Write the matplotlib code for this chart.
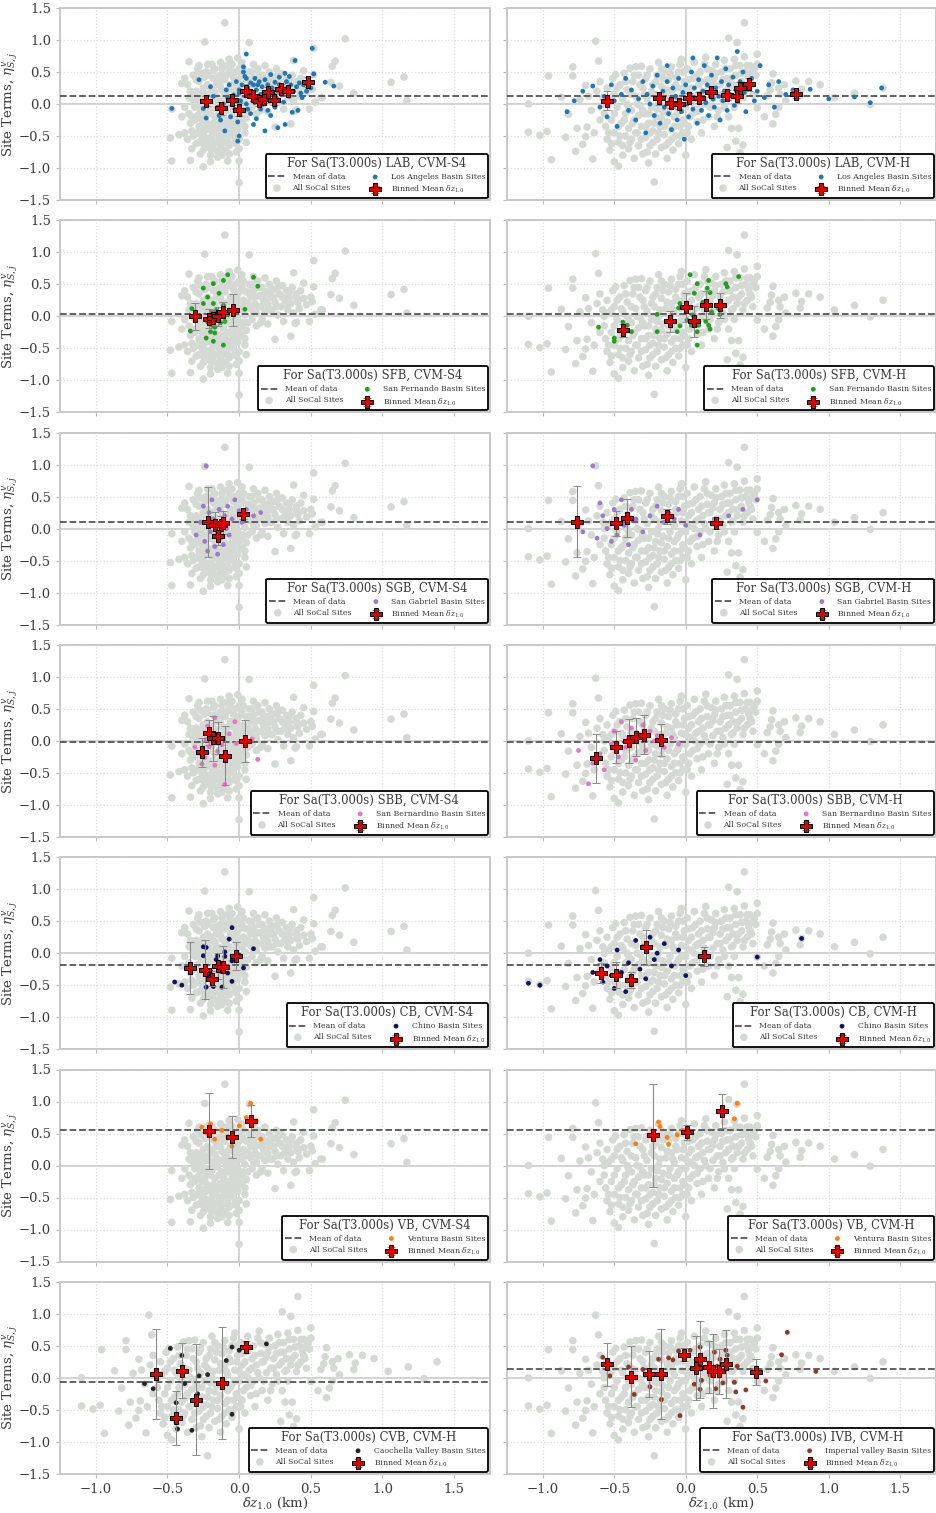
import matplotlib
matplotlib.use("Agg")
import matplotlib.pyplot as plt

plt.rcParams["font.family"] = ["DejaVu Serif"]
plt.rcParams["mathtext.fontset"] = "dejavuserif"

# ---------------- All SoCal sites (gray background clouds) ----------------
# CVM-S4 site terms vs dz1.0
S4_PTS = [
    (-0.36, 0.3), (-0.35, 0.1), (-0.35, -0.15), (-0.34, -0.3), (-0.33, -0.42), (-0.36, -0.55), (-0.32, 0.45),
    (-0.31, -0.05), (-0.3, 0.2), (-0.3, -0.62), (-0.33, -0.7), (-0.34, -0.88), (-0.31, -0.25), (-0.32, 0.05),
    (-0.29, 0.55), (-0.28, 0.6), (-0.28, 0.35), (-0.27, 0.12), (-0.27, -0.1), (-0.28, -0.35), (-0.26, -0.5),
    (-0.25, -0.62), (-0.27, -0.78), (-0.25, -0.98), (-0.24, 0.97), (-0.24, 0.42), (-0.25, 0.25), (-0.24, -0.2),
    (-0.26, 0.0), (-0.24, -0.42), (-0.25, -0.72), (-0.29, -0.18),
    (-0.23, 0.5), (-0.22, 0.3), (-0.22, 0.15), (-0.21, -0.05), (-0.23, -0.28), (-0.2, -0.4), (-0.22, -0.55),
    (-0.21, -0.65), (-0.2, -0.8), (-0.19, 0.62), (-0.18, 0.4), (-0.19, 0.2), (-0.18, 0.05), (-0.2, -0.15),
    (-0.18, -0.3), (-0.19, -0.5), (-0.18, -0.7), (-0.22, 0.62), (-0.2, -0.9),
    (-0.17, 0.55), (-0.16, 0.3), (-0.16, 0.12), (-0.15, -0.02), (-0.17, -0.2), (-0.15, -0.35), (-0.16, -0.45),
    (-0.14, -0.6), (-0.15, -0.75), (-0.15, -0.83), (-0.13, 0.65), (-0.13, 0.45), (-0.12, 0.22), (-0.13, 0.08),
    (-0.12, -0.1), (-0.13, -0.28), (-0.12, -0.5), (-0.13, -0.68), (-0.1, 1.27), (-0.14, 0.35),
    (-0.11, 0.6), (-0.1, 0.38), (-0.1, 0.18), (-0.09, 0.0), (-0.11, -0.18), (-0.09, -0.35), (-0.1, -0.45),
    (-0.08, -0.58), (-0.1, -0.72), (-0.08, -0.89), (-0.07, 0.7), (-0.07, 0.5), (-0.06, 0.3), (-0.07, 0.1),
    (-0.06, -0.08), (-0.07, -0.25), (-0.06, -0.4), (-0.07, -0.65), (-0.08, 0.6),
    (-0.05, 0.62), (-0.04, 0.42), (-0.04, 0.22), (-0.03, 0.05), (-0.05, -0.15), (-0.03, -0.3), (-0.04, -0.5),
    (-0.03, -0.6), (-0.02, -0.75), (-0.01, 0.72), (0.0, 0.55), (-0.01, 0.35), (0.0, 0.15), (-0.01, -0.05),
    (0.0, -0.2), (-0.01, -0.4), (0.0, -0.55), (0.0, -0.7), (0.0, -0.89), (0.0, -1.23), (-0.02, -0.12), (-0.04, 0.0),
    (0.02, 0.65), (0.02, 0.45), (0.03, 0.25), (0.02, 0.1), (0.03, -0.1), (0.02, -0.3), (0.04, -0.45),
    (0.05, 0.38), (0.04, 0.02), (0.05, -0.22), (0.07, 0.96), (0.05, -0.6),
    (0.07, 0.5), (0.08, 0.3), (0.08, 0.12), (0.09, -0.05), (0.1, 0.62), (0.1, 0.4), (0.11, 0.2), (0.12, 0.05),
    (0.12, -0.15), (0.13, 0.55), (0.14, 0.32), (0.15, 0.15), (0.16, 0.45), (0.16, -0.05), (0.17, 0.25),
    (0.18, 0.6), (0.18, 0.08), (0.19, 0.38), (0.2, 0.18), (0.2, -0.12), (0.21, 0.5), (0.22, 0.3), (0.23, 0.1),
    (0.24, 0.42), (0.25, -0.36), (0.25, 0.22), (0.26, 0.55), (0.27, 0.02), (0.28, 0.35), (0.29, 0.15),
    (0.3, 0.48), (0.31, -0.08), (0.32, 0.28), (0.33, 0.4), (0.34, 0.1), (0.35, 0.3), (0.36, -0.31), (0.36, 0.2),
    (0.37, 0.45), (0.38, 0.68), (0.38, 0.05), (0.39, -0.11), (0.4, 0.35), (0.4, -0.09), (0.41, 0.22),
    (0.42, 0.12), (0.43, 0.4), (0.45, 0.52), (0.45, 0.28), (0.47, 0.18), (0.49, -0.08), (0.5, 0.3), (0.51, 0.23),
    (0.52, 0.46), (0.52, 0.87), (0.53, 0.03), (0.57, 0.1), (0.58, 0.1), (0.64, 0.34), (0.65, 0.59), (0.67, 0.67),
    (0.7, 0.28), (0.74, 1.02), (0.8, 0.17), (1.06, 0.34), (1.15, 0.42), (1.17, 0.05),
    (-0.47, -0.08), (-0.47, -0.89), (-0.48, -0.53), (-0.42, -0.48), (-0.38, -0.45), (-0.4, 0.32), (-0.38, 0.4),
    (-0.35, 0.66), (-0.38, -0.05), (-0.4, -0.2),
    (-0.34, 0.2), (-0.33, -0.2), (-0.32, -0.5), (-0.3, 0.38), (-0.29, 0.05), (-0.29, -0.45), (-0.28, -0.6),
    (-0.27, 0.48), (-0.26, 0.18), (-0.26, -0.25), (-0.25, -0.38), (-0.24, 0.08), (-0.23, -0.1), (-0.23, -0.6),
    (-0.22, 0.45), (-0.21, 0.08), (-0.21, -0.35), (-0.2, 0.25), (-0.2, -0.7), (-0.19, -0.08), (-0.18, 0.52),
    (-0.17, 0.18), (-0.17, -0.4), (-0.16, -0.6), (-0.15, 0.42), (-0.15, 0.05), (-0.14, -0.15), (-0.14, -0.5),
    (-0.13, 0.28), (-0.12, -0.38), (-0.12, 0.55), (-0.11, 0.08), (-0.11, -0.6), (-0.1, -0.25), (-0.09, 0.45),
    (-0.09, -0.1), (-0.08, 0.22), (-0.08, -0.48), (-0.07, -0.78), (-0.06, 0.0), (-0.06, 0.6), (-0.05, -0.32),
    (-0.05, 0.3), (-0.04, -0.22), (-0.03, 0.5), (-0.03, -0.42), (-0.02, 0.15), (-0.02, -0.62), (-0.01, 0.25),
    (0.01, -0.3), (0.01, 0.4), (0.02, -0.15), (0.03, 0.55), (0.04, 0.15), (0.04, -0.35), (0.06, 0.2),
    (0.06, -0.1), (0.07, 0.38), (0.09, 0.5), (0.1, 0.05), (0.11, 0.3), (0.13, 0.15), (0.14, 0.45), (0.15, -0.1),
    (0.17, 0.35), (0.19, 0.25), (0.21, 0.1), (0.22, 0.4), (0.24, 0.3), (0.26, 0.15), (0.27, 0.45), (0.3, 0.3),
    (0.32, 0.2), (0.35, 0.38), (0.4, 0.28), (-0.12, -0.8), (-0.18, -0.58), (-0.24, -0.52), (-0.28, -0.05),
    (-0.31, 0.12),
]

# CVM-H site terms vs dz1.0
H_PTS = [
    (-1.10, 0.0), (-1.10, -0.44), (-1.02, -0.49), (-0.97, -0.43), (-0.96, 0.44), (-0.94, -0.87), (-0.87, 0.11),
    (-0.84, -0.52), (-0.82, -0.16), (-0.79, 0.58), (-0.79, 0.44), (-0.77, -0.74), (-0.76, -0.38), (-0.74, 0.07),
    (-0.72, -0.63), (-0.70, 0.29), (-0.70, -0.51), (-0.69, -0.36), (-0.65, -0.86), (-0.63, 0.98), (-0.62, 0.2),
    (-0.61, 0.67), (-0.66, -0.1), (-0.68, 0.12), (-0.64, -0.45), (-0.6, -0.25), (-0.6, 0.35),
    (-0.58, 0.1), (-0.57, -0.15), (-0.56, -0.35), (-0.55, 0.25), (-0.55, -0.55), (-0.54, 0.05), (-0.53, -0.72),
    (-0.52, -0.25), (-0.51, 0.4), (-0.5, -0.45), (-0.5, 0.15), (-0.49, 0.46), (-0.5, -0.9),
    (-0.48, -0.05), (-0.47, -0.6), (-0.47, -0.97), (-0.46, 0.3), (-0.45, -0.3), (-0.44, 0.08), (-0.44, -0.8),
    (-0.43, 0.48), (-0.42, -0.15), (-0.42, -0.5), (-0.41, 0.22), (-0.4, -0.38), (-0.4, -0.7), (-0.41, 0.0),
    (-0.39, 0.56), (-0.38, -0.1), (-0.38, -0.55), (-0.37, 0.35), (-0.36, -0.25), (-0.36, -0.85), (-0.35, 0.12),
    (-0.34, -0.45), (-0.33, 0.45), (-0.33, -0.65), (-0.32, -0.02), (-0.31, 0.59), (-0.31, -0.35), (-0.3, 0.25),
    (-0.3, -0.78), (-0.35, 0.58),
    (-0.29, -0.15), (-0.28, 0.4), (-0.28, -0.52), (-0.27, 0.08), (-0.26, -0.3), (-0.26, -0.92), (-0.25, 0.55),
    (-0.25, -0.65), (-0.24, -0.05), (-0.23, 0.3), (-0.23, -0.42), (-0.22, -1.22), (-0.22, 0.15), (-0.21, -0.2),
    (-0.21, -0.78), (-0.2, 0.45), (-0.2, -0.55),
    (-0.19, 0.65), (-0.19, 0.0), (-0.18, -0.35), (-0.17, 0.28), (-0.17, -0.68), (-0.16, -0.12), (-0.15, 0.5),
    (-0.15, -0.48), (-0.14, 0.12), (-0.13, -0.28), (-0.13, -0.85), (-0.12, 0.38), (-0.12, -0.6), (-0.11, -0.05),
    (-0.1, 0.2), (-0.1, -0.4), (-0.1, 0.58),
    (-0.09, -0.72), (-0.08, 0.05), (-0.08, -0.2), (-0.07, 0.42), (-0.07, -0.5), (-0.06, 0.25), (-0.05, -0.1),
    (-0.05, -0.62), (-0.04, 0.62), (-0.04, -0.35), (-0.03, 0.7), (-0.03, 0.12), (-0.02, -0.25), (-0.02, -0.45),
    (-0.01, 0.35), (0.0, -0.05), (0.0, -0.8), (-0.02, 0.5),
    (0.01, 0.55), (0.02, 0.2), (0.02, -0.35), (0.03, 0.05), (0.04, -0.55), (0.05, 0.4), (0.05, -0.15),
    (0.06, 0.65), (0.07, 0.12), (0.08, -0.28), (0.09, 0.3), (0.1, 0.5), (0.1, -0.05), (0.11, -0.45), (0.12, 0.2),
    (0.13, 0.62), (0.14, 0.73), (0.14, 0.0), (0.15, 0.38), (0.16, -0.2), (0.17, 0.25), (0.18, 0.52), (0.19, 0.08),
    (0.2, 0.4), (0.2, -0.35), (0.21, 0.62), (0.22, 0.15), (0.23, -0.1), (0.24, 0.3), (0.25, 0.5), (0.26, 0.05),
    (0.27, 0.68), (0.28, 0.2), (0.29, -0.68), (0.29, 0.4), (0.3, 1.03), (0.3, -0.2), (0.31, 0.55), (0.32, 0.1),
    (0.33, 0.3), (0.34, 0.7), (0.34, -0.05), (0.35, -0.58), (0.35, 0.45), (0.36, 0.96), (0.36, 0.2),
    (0.37, -0.38), (0.38, -0.76), (0.38, 0.6), (0.39, 0.35), (0.4, 0.1), (0.4, -0.64), (0.41, 0.74), (0.41, 1.27),
    (0.42, 0.5), (0.43, 0.25), (0.44, 0.42), (0.45, 0.6), (0.46, 0.3), (0.47, 0.15), (0.48, 0.55), (0.49, 0.45),
    (0.5, 0.78), (0.5, -0.06), (0.5, 0.62), (0.32, -0.38),
    (0.57, 0.13), (0.59, 0.22), (0.6, 0.33), (0.61, 0.47), (0.61, -0.31), (0.63, -0.16), (0.65, -0.05),
    (0.66, 0.15), (0.65, 0.25), (0.69, 0.3), (0.7, 0.05), (0.77, 0.36), (0.8, 0.13), (0.81, 0.23), (0.86, 0.35),
    (0.94, 0.3), (1.04, 0.1), (1.18, 0.17), (1.29, -0.01), (1.38, 0.25), (0.55, -0.2),
    (-0.57, 0.0), (-0.54, -0.45), (-0.52, 0.1), (-0.5, -0.15), (-0.48, 0.25), (-0.47, -0.35), (-0.46, -0.5),
    (-0.45, 0.12), (-0.43, -0.25), (-0.42, 0.35), (-0.4, -0.05), (-0.39, -0.6), (-0.38, 0.15), (-0.37, -0.3),
    (-0.36, 0.45), (-0.35, -0.45), (-0.34, 0.0), (-0.33, -0.18), (-0.32, 0.3), (-0.31, -0.55), (-0.3, -0.1),
    (-0.29, 0.15), (-0.28, -0.35), (-0.27, 0.45), (-0.26, -0.15), (-0.25, -0.45), (-0.24, 0.2), (-0.23, -0.6),
    (-0.22, -0.3), (-0.21, 0.35), (-0.2, -0.08), (-0.19, -0.45), (-0.18, 0.1), (-0.17, -0.22), (-0.16, 0.4),
    (-0.15, -0.35), (-0.14, -0.65), (-0.13, 0.22), (-0.12, -0.15), (-0.11, 0.48), (-0.1, -0.55), (-0.09, 0.1),
    (-0.08, -0.35), (-0.07, 0.3), (-0.06, -0.15), (-0.05, 0.5), (-0.04, -0.5), (-0.03, -0.05), (-0.02, 0.25),
    (-0.01, -0.3), (0.0, 0.1), (0.01, -0.45), (0.02, 0.38), (0.03, -0.2), (0.04, 0.25), (0.06, 0.0),
    (0.07, 0.45), (0.08, -0.12), (0.09, 0.15), (0.11, 0.35), (0.12, -0.25), (0.13, 0.08), (0.15, 0.55),
    (0.16, 0.25), (0.17, -0.05), (0.19, 0.32), (0.21, 0.48), (0.22, -0.2), (0.24, 0.15), (0.26, 0.38),
    (0.27, -0.05), (0.28, 0.55), (0.3, 0.25), (0.31, 0.4), (0.33, 0.12), (0.35, 0.6), (0.37, 0.3), (0.39, 0.48),
    (0.41, 0.2), (0.43, 0.6), (0.45, 0.35), (0.47, 0.5), (-0.17, 0.55), (-0.27, -0.75), (-0.44, -0.65),
    (-0.52, -0.62),
]

# ---------------- Basin sites ----------------
LAB_S4 = [
    (-0.47, -0.07), (-0.28, 0.38), (-0.25, -0.07), (-0.23, -0.22), (-0.2, 0.27), (-0.18, 0.12), (-0.15, -0.05),
    (-0.14, -0.18), (-0.13, -0.25), (-0.11, 0.0), (-0.1, -0.42), (-0.09, 0.22), (-0.07, 0.3), (-0.06, -0.2),
    (-0.05, 0.08), (-0.04, 0.14), (-0.03, -0.08), (-0.02, 0.35), (-0.01, -0.28), (0.0, -0.5), (-0.01, -0.58),
    (0.0, 0.17), (0.01, 0.05), (0.02, 0.3), (0.03, 0.58), (0.03, 0.5), (0.04, 0.43), (0.05, 0.78), (0.05, 0.4),
    (0.06, 0.25), (0.06, -0.08), (0.07, 0.18), (0.08, 0.33), (0.08, -0.15), (0.09, 0.12), (0.1, 0.3),
    (0.1, -0.32), (0.11, 0.02), (0.12, 0.22), (0.12, -0.23), (0.13, 0.07), (0.14, 0.35), (0.15, 0.15),
    (0.15, -0.08), (0.16, 0.27), (0.17, 0.0), (0.18, -0.42), (0.18, 0.38), (0.19, 0.12), (0.2, 0.3), (0.21, 0.05),
    (0.22, -0.18), (0.22, 0.46), (0.23, 0.25), (0.24, 0.15), (0.25, -0.05), (0.25, 0.34), (0.26, 0.09),
    (0.27, -0.37), (0.28, 0.3), (0.28, 0.42), (0.29, 0.16), (0.3, 0.22), (0.31, 0.03), (0.32, 0.48),
    (0.32, -0.32), (0.33, 0.35), (0.34, 0.25), (0.35, 0.12), (0.36, 0.3), (0.37, -0.13), (0.38, 0.2),
    (0.39, 0.68), (0.4, 0.27), (0.41, -0.1), (0.42, 0.33), (0.43, 0.17), (0.45, 0.3), (0.47, 0.2), (0.48, 0.4),
    (0.5, 0.25), (0.51, 0.87), (0.52, 0.47), (0.6, 0.34), (0.66, 0.28), (0.05, 0.0), (0.13, 0.3), (0.2, -0.1),
    (-0.08, 0.1), (0.0, 0.22), (0.11, 0.4), (0.27, 0.2), (0.35, 0.43), (0.44, 0.1),
]
LAB_H = [
    (-0.83, -0.12), (-0.78, 0.05), (-0.72, 0.2), (-0.65, 0.28), (-0.6, -0.05), (-0.57, 0.12), (-0.55, -0.2),
    (-0.52, 0.3), (-0.5, 0.05), (-0.48, -0.35), (-0.45, 0.15), (-0.42, 0.4), (-0.4, -0.1), (-0.38, 0.22),
    (-0.35, -0.25), (-0.33, 0.08), (-0.3, 0.35), (-0.28, -0.45), (-0.27, 0.15), (-0.25, 0.0), (-0.23, 0.28),
    (-0.22, -0.18), (-0.2, 0.45), (-0.19, 0.1), (-0.18, -0.3), (-0.16, 0.2), (-0.15, -0.05), (-0.13, 0.35),
    (-0.12, -0.15), (-0.11, 0.05), (-0.1, -0.4), (-0.09, 0.25), (-0.08, -0.02), (-0.07, 0.12), (-0.06, -0.25),
    (-0.05, 0.4), (-0.04, 0.03), (-0.03, -0.12), (-0.02, 0.18), (-0.01, -0.55), (0.0, 0.3), (0.01, 0.0),
    (0.02, -0.2), (0.03, 0.15), (0.04, 0.5), (0.05, -0.08), (0.06, 0.25), (0.07, 0.08), (0.08, -0.3),
    (0.09, 0.38), (0.1, 0.12), (0.11, -0.1), (0.12, 0.2), (0.13, 0.6), (0.14, 0.02), (0.15, 0.3), (0.16, -0.18),
    (0.17, 0.15), (0.18, 0.45), (0.19, 0.08), (0.2, -0.05), (0.21, 0.25), (0.22, 0.72), (0.23, 0.12),
    (0.24, -0.25), (0.25, 0.35), (0.26, 0.05), (0.27, 0.2), (0.28, 0.55), (0.29, -0.1), (0.3, 0.3), (0.31, 0.15),
    (0.33, 0.42), (0.34, -0.02), (0.35, 0.22), (0.36, 0.82), (0.37, 0.1), (0.38, 0.35), (0.4, 0.5), (0.41, 0.18),
    (0.42, -0.12), (0.44, 0.28), (0.46, 0.4), (0.48, 0.05), (0.5, 0.2), (0.52, 0.6), (0.55, 0.1), (0.58, 0.3),
    (0.62, -0.05), (0.7, 0.15), (0.75, 0.22), (0.87, 0.23), (1.0, 0.08), (1.18, 0.11), (1.29, 0.02), (1.37, 0.25),
    (0.65, 0.35), (0.05, 0.72), (-0.13, 0.6),
]
SFB_S4 = [
    (-0.34, -0.23), (-0.33, 0.12), (-0.25, 0.44), (-0.18, 0.51), (-0.11, 0.56), (-0.08, 0.65), (0.1, 0.61),
    (0.13, 0.47), (-0.22, 0.3), (-0.14, 0.36), (-0.25, 0.2), (-0.18, 0.2), (-0.11, 0.17), (-0.22, -0.09),
    (-0.19, -0.14), (-0.17, -0.17), (-0.13, -0.1), (-0.1, -0.08), (-0.2, -0.24), (-0.17, -0.26), (-0.23, -0.34),
    (-0.18, -0.39), (-0.11, -0.45), (0.04, 0.11), (-0.08, 0.02), (-0.14, 0.04), (-0.16, 0.09), (-0.19, 0.07),
]
SFB_H = [
    (-0.61, -0.17), (-0.5, -0.34), (-0.5, -0.39), (-0.44, -0.09), (-0.41, -0.14), (-0.38, -0.24), (-0.2, 0.03),
    (-0.2, -0.24), (-0.06, -0.24), (-0.04, -0.15), (-0.05, 0.13), (-0.04, 0.2), (0.03, 0.65), (0.06, 0.36),
    (0.08, 0.51), (0.05, 0.02), (0.01, -0.06), (0.04, -0.14), (0.08, -0.24), (0.09, -0.14), (0.08, -0.45),
    (0.14, -0.08), (0.15, 0.44), (0.16, 0.56), (0.17, 0.37), (0.16, -0.14), (0.17, -0.2), (0.18, 0.07),
    (0.23, 0.12), (0.24, 0.03), (0.28, 0.51), (0.29, 0.46), (0.37, 0.62), (0.12, 0.22),
]
SGB_S4 = [
    (-0.23, 0.98), (-0.25, 0.35), (-0.24, -0.2), (-0.22, -0.35), (-0.21, 0.25), (-0.2, -0.05), (-0.19, 0.45),
    (-0.18, 0.15), (-0.17, -0.28), (-0.16, 0.05), (-0.15, -0.4), (-0.14, 0.3), (-0.13, -0.15), (-0.12, 0.12),
    (-0.11, -0.25), (-0.1, 0.2), (-0.09, 0.0), (-0.08, 0.35), (-0.07, -0.1), (-0.05, 0.15), (-0.03, 0.45),
    (0.0, 0.28), (0.02, 0.1), (0.05, 0.3), (0.1, 0.2), (0.15, 0.25), (-0.27, 0.1), (-0.3, -0.1),
]
SGB_H = [
    (-0.65, 0.98), (-0.78, 0.1), (-0.72, -0.05), (-0.62, -0.15), (-0.58, 0.2), (-0.55, 0.0), (-0.52, -0.2),
    (-0.5, 0.3), (-0.48, -0.1), (-0.45, 0.45), (-0.43, 0.05), (-0.4, -0.25), (-0.38, 0.3), (-0.35, 0.15),
    (-0.3, -0.05), (-0.25, 0.2), (-0.2, 0.35), (-0.15, 0.1), (-0.12, 0.25), (-0.08, 0.15), (-0.05, 0.3),
    (0.0, 0.05), (0.1, -0.1), (0.2, 0.15), (0.3, 0.2), (0.4, 0.3), (0.5, 0.45), (-0.6, 0.4),
]
SBB_S4 = [
    (-0.17, 0.36), (-0.22, 0.23), (-0.03, 0.3), (-0.07, 0.11), (-0.31, -0.1), (-0.24, -0.26), (-0.26, -0.36),
    (-0.15, -0.16), (-0.17, -0.38), (-0.1, -0.68), (0.09, 0.03), (0.13, -0.29), (-0.12, -0.06), (-0.02, -0.04),
    (-0.21, -0.09), (-0.19, 0.02), (-0.23, 0.02),
]
SBB_H = [
    (-0.68, -0.67), (-0.75, -0.15), (-0.65, -0.35), (-0.6, -0.2), (-0.57, -0.45), (-0.52, -0.05), (-0.5, 0.15),
    (-0.47, -0.25), (-0.45, 0.3), (-0.42, -0.1), (-0.4, 0.05), (-0.38, 0.2), (-0.35, -0.3), (-0.32, 0.1),
    (-0.3, 0.25), (-0.28, -0.15), (-0.25, 0.15), (-0.22, 0.0), (-0.2, 0.08), (-0.15, -0.1), (-0.1, 0.05),
    (-0.05, -0.05),
]
CB_S4 = [
    (-0.45, -0.45), (-0.4, -0.5), (-0.25, 0.1), (-0.23, 0.09), (-0.25, -0.04), (-0.23, -0.53), (-0.21, -0.35),
    (-0.2, -0.28), (-0.18, -0.52), (-0.16, -0.1), (-0.15, -0.04), (-0.13, -0.28), (-0.16, -0.41), (-0.12, -0.53),
    (-0.1, 0.02), (-0.05, 0.4), (-0.07, 0.22), (-0.08, -0.31), (-0.05, -0.12), (-0.05, -0.44), (0.0, -0.03),
    (0.03, -0.23), (0.1, 0.07), (-0.1, -0.05),
]
CB_H = [
    (-1.1, -0.47), (-1.02, -0.5), (-0.65, -0.3), (-0.6, -0.1), (-0.58, -0.45), (-0.55, -0.2), (-0.52, -0.35),
    (-0.5, -0.55), (-0.48, 0.05), (-0.45, -0.3), (-0.42, -0.6), (-0.4, -0.15), (-0.38, -0.45), (-0.35, 0.2),
    (-0.32, -0.25), (-0.3, 0.1), (-0.28, -0.4), (-0.25, 0.25), (-0.22, -0.1), (-0.2, 0.0), (-0.15, 0.15),
    (-0.1, -0.2), (-0.05, 0.05), (0.0, -0.35), (0.1, -0.05), (0.5, -0.06), (0.81, 0.23),
]
VB_S4 = [
    (-0.26, 0.6), (-0.22, 0.5), (-0.17, 0.41), (-0.12, 0.55), (-0.08, 0.45), (-0.05, 0.3), (0.0, 0.62),
    (0.05, 0.75), (0.08, 0.97), (0.12, 0.7), (0.15, 0.41), (-0.2, 0.65),
]
VB_H = [
    (-0.35, 0.34), (-0.19, 0.68), (-0.18, 0.61), (-0.13, 0.44), (-0.12, 0.33), (-0.06, 0.48), (-0.02, 0.55),
    (0.36, 0.97), (0.34, 0.73),
]
CVB_H = [
    (-0.66, -0.09), (-0.6, -0.17), (-0.48, 0.46), (-0.44, -0.39), (-0.44, -0.7), (-0.43, -0.8), (-0.4, 0.35),
    (-0.38, -0.09), (-0.33, -0.82), (-0.29, -0.25), (-0.28, 0.03), (-0.22, 0.05), (-0.09, 0.27), (-0.05, 0.48),
    (-0.05, -0.57), (0.0, 0.43), (0.19, 0.53),
]
IVB_H = [
    (-0.58, 0.32), (-0.53, 0.03), (-0.36, -0.26), (-0.4, 0.17), (-0.3, 0.13), (-0.25, -0.14), (-0.19, 0.29),
    (-0.17, -0.34), (-0.12, 0.31), (-0.09, 0.28), (-0.05, 0.42), (-0.04, -0.59), (0.03, 0.43), (0.06, -0.1),
    (0.1, -0.18), (0.1, 0.48), (0.11, -0.04), (0.17, 0.04), (0.19, 0.1), (0.21, -0.17), (0.2, 0.4), (0.22, 0.18),
    (0.26, -0.08), (0.28, 0.43), (0.29, 0.35), (0.34, -0.07), (0.35, -0.22), (0.36, 0.18), (0.4, -0.46),
    (0.42, -0.19), (0.56, -0.05), (0.67, 0.36), (0.71, 0.71), (0.91, 0.1), (0.24, 0.29),
]

# ---------------- Binned means: (dz1.0, mean, half-width of error bar) ----------------
BIN_LAB_S4 = [(-0.23, 0.05, 0.08), (-0.13, -0.07, 0.1), (-0.05, 0.07, 0.08), (0.0, -0.09, 0.1), (0.05, 0.21, 0.1),
              (0.1, 0.12, 0.08), (0.14, 0.04, 0.07), (0.17, 0.08, 0.07), (0.2, 0.18, 0.08), (0.24, 0.07, 0.08),
              (0.29, 0.23, 0.08), (0.34, 0.2, 0.08), (0.48, 0.34, 0.08)]
BIN_LAB_H = [(-0.55, 0.05, 0.15), (-0.19, 0.09, 0.1), (-0.1, 0.02, 0.08), (-0.05, 0.0, 0.08), (0.02, 0.09, 0.08),
             (0.09, 0.1, 0.08), (0.18, 0.19, 0.08), (0.29, 0.14, 0.08), (0.36, 0.12, 0.1), (0.38, 0.25, 0.1),
             (0.44, 0.31, 0.1), (0.77, 0.16, 0.06)]
BIN_SFB_S4 = [(-0.31, 0.0, 0.21), (-0.21, -0.04, 0.15), (-0.18, -0.02, 0.12), (-0.15, 0.0, 0.15),
              (-0.11, 0.07, 0.15), (-0.04, 0.1, 0.25)]
BIN_SFB_H = [(-0.44, -0.22, 0.1), (-0.11, -0.08, 0.17), (0.0, 0.14, 0.23), (0.06, -0.08, 0.24),
             (0.14, 0.17, 0.22), (0.24, 0.17, 0.19)]
BIN_SGB_S4 = [(-0.22, 0.1, 0.55), (-0.17, 0.06, 0.2), (-0.13, 0.05, 0.15), (-0.11, 0.09, 0.18),
              (-0.15, -0.11, 0.15), (0.03, 0.23, 0.08)]
BIN_SGB_H = [(-0.76, 0.11, 0.55), (-0.49, 0.08, 0.2), (-0.41, 0.17, 0.3), (-0.13, 0.19, 0.12), (0.21, 0.08, 0.08)]
BIN_SBB_S4 = [(-0.21, 0.13, 0.2), (-0.26, -0.18, 0.23), (-0.18, 0.04, 0.35), (-0.15, 0.05, 0.25),
              (-0.1, -0.23, 0.46), (0.04, 0.0, 0.33)]
BIN_SBB_H = [(-0.63, -0.27, 0.38), (-0.49, -0.1, 0.25), (-0.4, 0.0, 0.35), (-0.35, 0.06, 0.3),
             (-0.29, 0.1, 0.3), (-0.17, 0.02, 0.25)]
BIN_CB_S4 = [(-0.34, -0.23, 0.41), (-0.24, -0.26, 0.46), (-0.19, -0.4, 0.12), (-0.15, -0.2, 0.2),
             (-0.11, -0.21, 0.33), (-0.02, -0.05, 0.22)]
BIN_CB_H = [(-0.59, -0.31, 0.15), (-0.49, -0.34, 0.2), (-0.38, -0.42, 0.12), (-0.28, 0.09, 0.28),
            (0.13, -0.05, 0.15)]
BIN_VB_S4 = [(-0.21, 0.54, 0.59), (-0.05, 0.45, 0.33), (0.08, 0.69, 0.25)]
BIN_VB_H = [(-0.23, 0.47, 0.8), (0.01, 0.52, 0.12), (0.25, 0.85, 0.27)]
BIN_CVB_H = [(-0.58, 0.06, 0.7), (-0.4, 0.11, 0.43), (-0.44, -0.63, 0.42), (-0.3, -0.34, 0.87),
             (-0.12, -0.08, 0.88), (0.05, 0.48, 0.09)]
BIN_IVB_H = [(-0.55, 0.21, 0.34), (-0.38, 0.02, 0.47), (-0.26, 0.06, 0.36), (-0.17, 0.06, 0.71),
             (-0.01, 0.36, 0.1), (0.07, 0.15, 0.5), (0.1, 0.29, 0.6), (0.16, 0.17, 0.4), (0.19, 0.11, 0.58),
             (0.23, 0.1, 0.35), (0.28, 0.21, 0.53), (0.49, 0.09, 0.2)]

# Mean site term of each basin
MEANS = {"LAB": 0.12, "SFB": 0.03, "SGB": 0.10, "SBB": -0.02, "CB": -0.19, "VB": 0.56, "CVB": -0.07, "IVB": 0.14}

PANELS = [
    # (basin code, model, basin sites, binned means, site label, colour)
    [("LAB", "CVM-S4", LAB_S4, BIN_LAB_S4, "Los Angeles Basin Sites", "#1f77b4"),
     ("LAB", "CVM-H", LAB_H, BIN_LAB_H, "Los Angeles Basin Sites", "#1f77b4")],
    [("SFB", "CVM-S4", SFB_S4, BIN_SFB_S4, "San Fernando Basin Sites", "#1fa01f"),
     ("SFB", "CVM-H", SFB_H, BIN_SFB_H, "San Fernando Basin Sites", "#1fa01f")],
    [("SGB", "CVM-S4", SGB_S4, BIN_SGB_S4, "San Gabriel Basin Sites", "#9a7cc9"),
     ("SGB", "CVM-H", SGB_H, BIN_SGB_H, "San Gabriel Basin Sites", "#9a7cc9")],
    [("SBB", "CVM-S4", SBB_S4, BIN_SBB_S4, "San Bernardino Basin Sites", "#e377c2"),
     ("SBB", "CVM-H", SBB_H, BIN_SBB_H, "San Bernardino Basin Sites", "#e377c2")],
    [("CB", "CVM-S4", CB_S4, BIN_CB_S4, "Chino Basin Sites", "#14145e"),
     ("CB", "CVM-H", CB_H, BIN_CB_H, "Chino Basin Sites", "#14145e")],
    [("VB", "CVM-S4", VB_S4, BIN_VB_S4, "Ventura Basin Sites", "#ff7f0e"),
     ("VB", "CVM-H", VB_H, BIN_VB_H, "Ventura Basin Sites", "#ff7f0e")],
    [("CVB", "CVM-H", CVB_H, BIN_CVB_H, "Caochella Valley Basin Sites", "#262626"),
     ("IVB", "CVM-H", IVB_H, BIN_IVB_H, "Imperial valley Basin Sites", "#8b3a2b")],
]

X_TICKS = [-1.0, -0.5, 0.0, 0.5, 1.0, 1.5]
Y_TICKS = [-1.5, -1.0, -0.5, 0.0, 0.5, 1.0, 1.5]

W, H = 936, 1513
fig = plt.figure(figsize=(W / 100, H / 100), dpi=100)

TEXT_C = "#3a3a3a"
GRAY_PT = "#d4d9d3"

for r, row in enumerate(PANELS):
    top = 8 + 212.3 * r
    for c, (code, model, sites, bins, site_label, color) in enumerate(row):
        left = 60 if c == 0 else 507
        width = 430 if c == 0 else 429
        ax = fig.add_axes([left / W, 1 - (top + 192) / H, width / W, 192 / H])
        ax.set_xlim(-1.25, 1.75)
        ax.set_ylim(-1.5, 1.5)
        ax.set_xticks(X_TICKS)
        ax.set_yticks(Y_TICKS)
        ax.grid(True, color="#dcdcdc", linestyle=":", linewidth=0.9, zorder=0)
        ax.axhline(0, color="#c4c4c4", lw=1.1, zorder=1)
        ax.axvline(0, color="#c4c4c4", lw=1.1, zorder=1)
        for s in ax.spines.values():
            s.set_color("#c8c8c8")
            s.set_linewidth(1.4)
        ax.tick_params(colors=TEXT_C, labelsize=9.5, length=3, color="#bbbbbb")

        cloud = S4_PTS if model == "CVM-S4" else H_PTS
        cx = [p[0] for p in cloud]
        cy = [p[1] for p in cloud]
        h_all = ax.scatter(cx, cy, s=30, color=GRAY_PT, edgecolors="none", zorder=2,
                           label="All SoCal Sites")
        h_mean = ax.axhline(MEANS[code], color="#555555", ls="--", lw=1.3, zorder=3,
                            label="Mean of data")
        bx = [p[0] for p in sites]
        by = [p[1] for p in sites]
        h_site = ax.scatter(bx, by, s=12, color=color, edgecolors="none", zorder=4, label=site_label)
        mx = [b[0] for b in bins]
        my = [b[1] for b in bins]
        me = [b[2] for b in bins]
        h_bin = ax.errorbar(mx, my, yerr=me, fmt="P", color="#e00000", ms=8.5, mec="black", mew=0.7,
                            ecolor="#8a8a8a", elinewidth=0.8, capsize=3, capthick=0.8, zorder=5,
                            label=r"Binned Mean $\delta z_{1.0}$")

        if c == 0:
            ax.set_ylabel(r"Site Terms, $\eta^{v}_{S,j}$", fontsize=9.5, color=TEXT_C)
            ax.yaxis.set_label_coords(-0.094, 0.5)
        else:
            ax.tick_params(labelleft=False)
        if r == len(PANELS) - 1:
            ax.set_xlabel(r"$\delta z_{1.0}$ (km)", fontsize=9.5, color=TEXT_C, labelpad=0)
        else:
            ax.tick_params(labelbottom=False)

        leg = ax.legend([h_mean, h_all, h_site, h_bin],
                        ["Mean of data", "All SoCal Sites", site_label, r"Binned Mean $\delta z_{1.0}$"],
                        loc="lower right", ncol=2, fontsize=5.6, title=f"For Sa(T3.000s) {code}, {model}",
                        title_fontsize=8.4, frameon=True, fancybox=True, framealpha=1,
                        edgecolor="black", borderpad=0.35, labelspacing=0.4, handlelength=2.2,
                        handletextpad=0.9, columnspacing=2.0, borderaxespad=0.25)
        leg.get_frame().set_linewidth(1.3)
        leg.get_title().set_color(TEXT_C)
        for t in leg.get_texts():
            t.set_color(TEXT_C)
        leg.set_zorder(10)

fig.savefig("out.png", dpi=100)
